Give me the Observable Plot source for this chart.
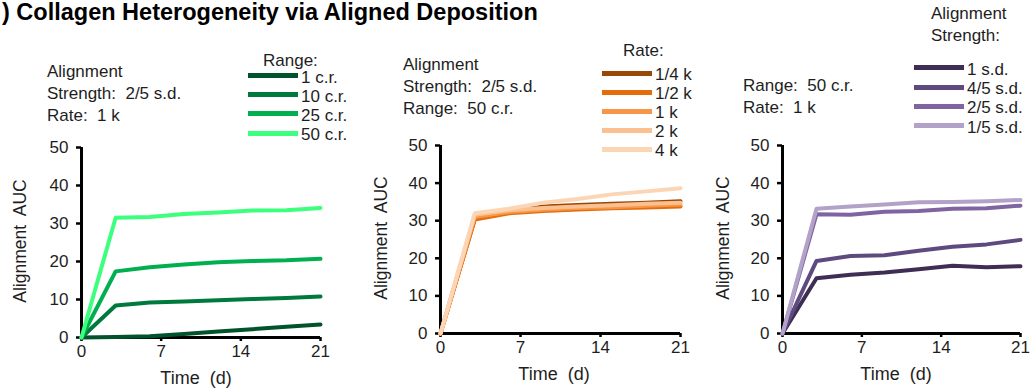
<!DOCTYPE html>
<html>
<head>
<meta charset="utf-8">
<script src="https://cdn.jsdelivr.net/npm/d3@7"></script>
<script src="https://cdn.jsdelivr.net/npm/@observablehq/plot@0.6"></script>
<style>
  html, body { margin: 0; padding: 0; background: #fff; }
  #root { position: relative; width: 1030px; height: 391px; overflow: hidden;
          font-family: "Liberation Sans", Arial, sans-serif; color: #1e1e1e; }
  .abs { position: absolute; white-space: pre; }
  .txt { font-size: 17px; line-height: 22px; }
  .row { position: absolute; height: 19px; display: flex; align-items: center; font-size: 17px; white-space: pre; }
  .sw { display: inline-block; width: 50px; height: 5px; margin-right: 3px; }
</style>
</head>
<body>
<div id="root"></div>
<script>
// ---------- data ----------
const days = [0, 3, 6, 9, 12, 15, 18, 21];
const xTicks = [0, 7, 14, 21];
const yTicks = [0, 10, 20, 30, 40, 50];

const rangeSeries = ["1 c.r.", "10 c.r.", "25 c.r.", "50 c.r."];
const rangeValues = [
  [0, 0.1, 0.3, 0.9, 1.6, 2.2, 2.8, 3.4],
  [0, 8.4, 9.2, 9.5, 9.8, 10.1, 10.4, 10.8],
  [0, 17.4, 18.5, 19.2, 19.8, 20.1, 20.3, 20.7],
  [0, 31.5, 31.7, 32.5, 32.9, 33.4, 33.5, 34.1]
];
const rangeColors = ["#00532b", "#007a3c", "#00b050", "#3dff7e"];

const rateSeries = ["1/4 k", "1/2 k", "1 k", "2 k", "4 k"];
const rateValues = [
  [0, 30.5, 32.5, 33.8, 34.2, 34.5, 34.8, 35.2],
  [0, 30.3, 32.0, 32.6, 33.0, 33.3, 33.5, 33.8],
  [0, 31.0, 32.3, 32.9, 33.4, 33.6, 34.0, 34.3],
  [0, 31.6, 32.8, 33.4, 33.8, 34.1, 34.5, 34.8],
  [0, 32.0, 33.2, 34.8, 35.8, 37.0, 37.8, 38.6]
];
const rateColors = ["#984807", "#e46c0a", "#f79646", "#fac090", "#fcd5b5"];

const strengthSeries = ["1 s.d.", "4/5 s.d.", "2/5 s.d.", "1/5 s.d."];
const strengthValues = [
  [0, 14.7, 15.6, 16.2, 17.1, 18.0, 17.6, 17.9],
  [0, 19.3, 20.6, 20.8, 22.0, 23.1, 23.7, 24.9],
  [0, 31.7, 31.6, 32.4, 32.6, 33.2, 33.3, 34.0],
  [0, 33.2, 33.8, 34.3, 34.9, 35.0, 35.2, 35.5]
];
const strengthColors = ["#3f2e54", "#5f4a80", "#8064a2", "#b3a2c7"];

const titleText = ") Collagen Heterogeneity via Aligned Deposition";
const yLabel = "Alignment  AUC";
const xLabel = "Time  (d)";

// ---------- layout ----------
const panels = [
  { series: rangeSeries, values: rangeValues, colors: rangeColors,
    left: 0, top: 130, width: 340, height: 261, mL: 81, mR: 20, mT: 17, mB: 54,
    note: ["Alignment", "Strength:  2/5 s.d.", "Rate:  1 k"], noteX: 47, noteBase: 78,
    legTitle: ["Range:"], legTitleX: 263, legTitleBase: 67,
    legX: 248, legY0: 75.5, legStep: 19.2,
    yLabX: 20, yLabY: 241, xLabX: 196, xLabBase: 384 },
  { series: rateSeries, values: rateValues, colors: rateColors,
    left: 350, top: 130, width: 340, height: 261, mL: 90, mR: 10, mT: 15, mB: 58,
    note: ["Alignment", "Strength:  2/5 s.d.", "Range:  50 c.r."], noteX: 403, noteBase: 71,
    legTitle: ["Rate:"], legTitleX: 623, legTitleBase: 57,
    legX: 602, legY0: 73.3, legStep: 19.0,
    yLabX: 381, yLabY: 238, xLabX: 554, xLabBase: 380 },
  { series: strengthSeries, values: strengthValues, colors: strengthColors,
    left: 690, top: 130, width: 340, height: 261, mL: 92, mR: 10, mT: 15, mB: 58,
    note: ["Range:  50 c.r.", "Rate:  1 k"], noteX: 743, noteBase: 92,
    legTitle: ["Alignment", "Strength:"], legTitleX: 931, legTitleBase: 20,
    legX: 914, legY0: 67.7, legStep: 19.3,
    yLabX: 723, yLabY: 238, xLabX: 896, xLabBase: 380 }
];

const root = document.getElementById("root");
const BASE = 17; // baseline offset within a 22px line for 17px text

function addDiv(cls, css, text) {
  const d = document.createElement("div");
  d.className = cls;
  Object.assign(d.style, css);
  if (text != null) d.textContent = text;
  root.appendChild(d);
  return d;
}

// title
addDiv("abs", { left: "2px", top: "-1px", fontSize: "23.5px", fontWeight: "bold", color: "#000", lineHeight: "26px" }, titleText);

for (const p of panels) {
  const data = [];
  p.series.forEach((s, i) => days.forEach((d, j) => data.push({ series: s, day: d, value: p.values[i][j] })));

  const chart = Plot.plot({
    width: p.width, height: p.height,
    marginLeft: p.mL, marginRight: p.mR, marginTop: p.mT, marginBottom: p.mB,
    style: { fontFamily: '"Liberation Sans", Arial, sans-serif', fontSize: "17px", color: "#1e1e1e", background: "transparent" },
    x: { domain: [0, 21] },
    y: { domain: [0, 50] },
    color: { domain: p.series, range: p.colors },
    marks: [
      Plot.axisX({ ticks: xTicks, tickSize: 4, tickPadding: 3, label: null, stroke: "#000", strokeWidth: 2.5, fill: "#1e1e1e" }),
      Plot.axisY({ ticks: yTicks, tickSize: 5, tickPadding: 8, label: null, stroke: "#000", strokeWidth: 2.5, fill: "#1e1e1e" }),
      Plot.ruleY([0], { stroke: "#000", strokeWidth: 3 }),
      Plot.ruleX([0], { stroke: "#000", strokeWidth: 3 }),
      Plot.line(data, { x: "day", y: "value", z: "series", stroke: "series", strokeWidth: 4, strokeLinejoin: "round" })
    ]
  });
  chart.style.position = "absolute";
  chart.style.left = p.left + "px";
  chart.style.top = p.top + "px";
  root.appendChild(chart);

  // annotation text
  addDiv("abs txt", { left: p.noteX + "px", top: (p.noteBase - BASE) + "px" }, p.note.join("\n"));
  // legend title
  addDiv("abs txt", { left: p.legTitleX + "px", top: (p.legTitleBase - BASE) + "px" }, p.legTitle.join("\n"));
  // legend rows
  p.series.forEach((s, i) => {
    const r = addDiv("row", { left: p.legX + "px", top: (p.legY0 + i * p.legStep - 9.5) + "px" });
    const sw = document.createElement("span");
    sw.className = "sw";
    sw.style.background = p.colors[i];
    r.appendChild(sw);
    const t = document.createElement("span");
    t.textContent = s;
    t.style.position = "relative";
    t.style.top = "2px";
    r.appendChild(t);
  });
  // axis titles
  addDiv("abs", { left: p.yLabX + "px", top: p.yLabY + "px", fontSize: "17.5px", lineHeight: "20px",
    transform: "translate(-50%, -50%) rotate(-90deg)" }, yLabel);
  addDiv("abs", { left: p.xLabX + "px", top: (p.xLabBase - 16) + "px", fontSize: "18px", lineHeight: "20px",
    transform: "translateX(-50%)" }, xLabel);
}
</script>
</body>
</html>
